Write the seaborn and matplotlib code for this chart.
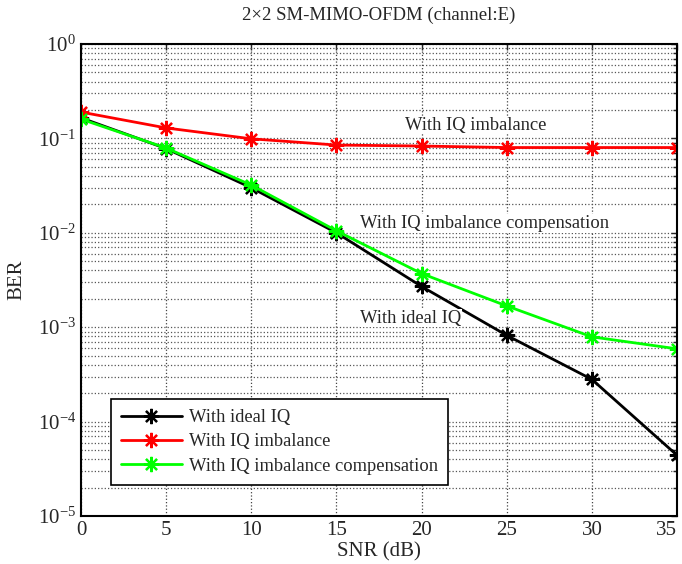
import numpy as np
import pandas as pd
import matplotlib
matplotlib.use("Agg")
import matplotlib.pyplot as plt
from matplotlib.lines import Line2D
import seaborn as sns

snr = [0, 5, 10, 15, 20, 25, 30, 35]
ber_ideal = [0.165, 0.078, 0.030, 0.0100, 0.0027, 0.00082, 0.00028, 0.000044]
ber_imb = [0.19, 0.129, 0.099, 0.085, 0.083, 0.080, 0.080, 0.080]
ber_comp = [0.16, 0.079, 0.032, 0.0105, 0.0037, 0.00168, 0.00079, 0.00059]
series_names = ["With ideal IQ", "With IQ imbalance", "With IQ imbalance compensation"]
colors = ["#000000", "#ff0000", "#00ff00"]
xticks = [0, 5, 10, 15, 20, 25, 30, 35]
ytick_exps = [0, -1, -2, -3, -4, -5]

df = pd.concat([
    pd.DataFrame({"SNR": snr, "BER": ber_ideal, "Series": series_names[0]}),
    pd.DataFrame({"SNR": snr, "BER": ber_imb, "Series": series_names[1]}),
    pd.DataFrame({"SNR": snr, "BER": ber_comp, "Series": series_names[2]}),
])

sns.set_style("white")
plt.rcParams["font.family"] = ["Liberation Serif", "DejaVu Serif"]
plt.rcParams["mathtext.fontset"] = "custom"
plt.rcParams["mathtext.rm"] = "Liberation Serif"
plt.rcParams["mathtext.it"] = "Liberation Serif"

fig = plt.figure(figsize=(6.82, 5.64), dpi=100)
ax = fig.add_axes([0.1188, 0.0851, 0.8739, 0.8369])

marker = (8, 2, 0)
sns.lineplot(data=df, x="SNR", y="BER", hue="Series", palette=colors,
             hue_order=series_names, marker=marker, markersize=11,
             markeredgewidth=1.6, linewidth=2, ax=ax, legend=False)
for ln, c in zip(ax.get_lines(), colors):
    ln.set_markeredgecolor(c)
    ln.set_markerfacecolor(c)

ax.set_yscale("log")
ax.set_xlim(0, 35)
ax.set_ylim(1e-5, 1)
ax.set_xticks(xticks)
ax.set_xticklabels([str(v) for v in xticks], fontsize=15)
ax.set_yticks([10.0 ** e for e in ytick_exps])
ax.set_yticklabels([r"10$^{%d}$" % e for e in ytick_exps], fontsize=15)
ax.yaxis.set_minor_locator(matplotlib.ticker.LogLocator(base=10, subs=np.arange(2, 10)))
ax.yaxis.set_minor_formatter(matplotlib.ticker.NullFormatter())
ax.get_xticklabels()[-1].set_horizontalalignment("right")

ax.grid(True, which="major", axis="x", color="#444444", linestyle=":", linewidth=0.9)
ax.grid(True, which="both", axis="y", color="#555555", linestyle=":", linewidth=0.9)
ax.tick_params(axis="both", which="both", direction="in", top=True, right=True,
               length=4, width=1)
ax.tick_params(axis="y", which="minor", length=3)
for s in ax.spines.values():
    s.set_linewidth(1.5)
    s.set_color("black")

ax.set_xlabel("SNR (dB)", fontsize=15, labelpad=2)
ax.set_ylabel("BER", fontsize=15, labelpad=8)
ax.set_title("2\u00d72 SM-MIMO-OFDM (channel:E)", fontsize=13.5, pad=17)

bbox = dict(facecolor="white", edgecolor="none", pad=0.5)
ax.text(23.2, 0.112, "With IQ imbalance", fontsize=13.3, ha="center", va="bottom", bbox=bbox)
ax.text(16.4, 0.0125, "With IQ imbalance compensation", fontsize=13.3, ha="left", va="center", bbox=bbox)
ax.text(16.4, 0.00125, "With ideal IQ", fontsize=13.3, ha="left", va="center", bbox=bbox)

handles = [Line2D([], [], color=c, linewidth=2, marker=marker, markersize=11,
                  markeredgewidth=1.6, markeredgecolor=c) for c in colors]
leg = ax.legend(handles, series_names, loc="upper left", bbox_to_anchor=(0.05, 0.248),
                fontsize=13.3, frameon=True, fancybox=False, edgecolor="black",
                framealpha=1, handlelength=3.3, handletextpad=0.4, borderpad=0.55,
                labelspacing=0.4, borderaxespad=0)
leg.get_frame().set_linewidth(1.2)

fig.savefig("out.png", dpi=100)
